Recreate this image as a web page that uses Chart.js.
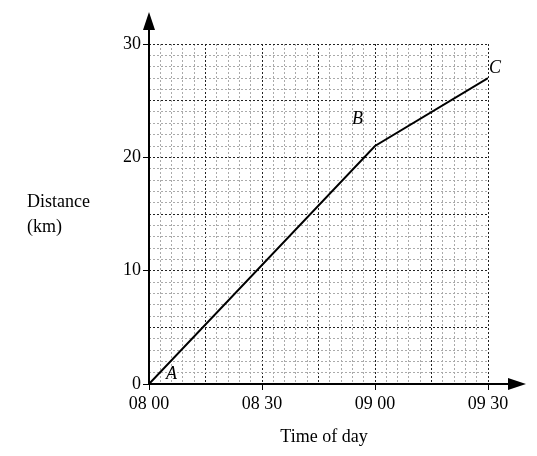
<!DOCTYPE html>
<html><head><script src="https://cdn.jsdelivr.net/npm/chart.js@4"></script>
<style>body{margin:0;background:#fff}#w{width:537px;height:456px}</style></head>
<body><div id="w"><canvas id="c"></canvas></div>
<script>
const times=[0,60,90];
const distances=[0,21,27];
const pointLabels=['A','B','C'];
const xTickLabels={0:'08 00',30:'08 30',60:'09 00',90:'09 30'};
const yTickValues=[0,10,20,30];
const F='"Liberation Serif","DejaVu Serif",serif';
const deco={id:'deco',afterDraw(ch){
 const c=ch.ctx,x=ch.scales.x,y=ch.scales.y;
 const x0=x.getPixelForValue(0),y0=y.getPixelForValue(0);
 c.save();c.strokeStyle='#000';c.fillStyle='#000';c.lineWidth=2;
 c.beginPath();c.moveTo(x0,y0);c.lineTo(x0,22);c.stroke();
 c.beginPath();c.moveTo(x0,12);c.lineTo(x0-6,30);c.lineTo(x0+6,30);c.closePath();c.fill();
 c.beginPath();c.moveTo(x0,y0);c.lineTo(515,y0);c.stroke();
 c.beginPath();c.moveTo(526,y0);c.lineTo(508,y0-6);c.lineTo(508,y0+6);c.closePath();c.fill();
 c.font='italic 18px '+F;c.textBaseline='middle';
 const off=[[22,-10],[-18,-27],[6,-10]];
 times.forEach((t,i)=>{c.fillText(pointLabels[i],x.getPixelForValue(t)+off[i][0]-5,y.getPixelForValue(distances[i])+off[i][1]);});
 c.font='18px '+F;c.textAlign='left';
 c.fillText('Distance',27,202);c.fillText('(km)',27,227);
 c.textAlign='center';c.fillText('Time of day',324,437);
 c.restore();}};
new Chart(document.getElementById('c'),{type:'scatter',
 data:{datasets:[{data:times.map((t,i)=>({x:t,y:distances[i]})),showLine:true,borderColor:'#000',borderWidth:2,pointRadius:0,tension:0}]},
 options:{responsive:true,maintainAspectRatio:false,animation:false,
  layout:{padding:{top:44,right:49,left:0,bottom:0}},
  plugins:{legend:{display:false},tooltip:{enabled:false}},
  scales:{
   x:{type:'linear',min:0,max:90,afterFit:s=>{s.height=72;},
    ticks:{stepSize:3,autoSkip:false,maxRotation:0,color:'#000',font:{family:F,size:18},padding:3,callback:v=>xTickLabels[v]??''},
    border:{display:false,dash:[2,2]},
    grid:{color:c=>c.tick&&c.tick.value%15===0?'#222':'#aaa',lineWidth:1,tickLength:6,tickColor:c=>c.tick&&c.tick.value%30===0?'#000':'transparent'}},
   y:{min:0,max:30,afterFit:s=>{s.width=149;},
    ticks:{stepSize:1,autoSkip:false,color:'#000',font:{family:F,size:18},padding:2,callback:v=>yTickValues.includes(v)?String(v):''},
    border:{display:false,dash:[2,2]},
    grid:{color:c=>c.tick&&c.tick.value%5===0?'#222':'#aaa',lineWidth:1,tickLength:6,tickColor:c=>c.tick&&c.tick.value%10===0?'#000':'transparent'}}}},
 plugins:[deco]});
</script></body></html>
